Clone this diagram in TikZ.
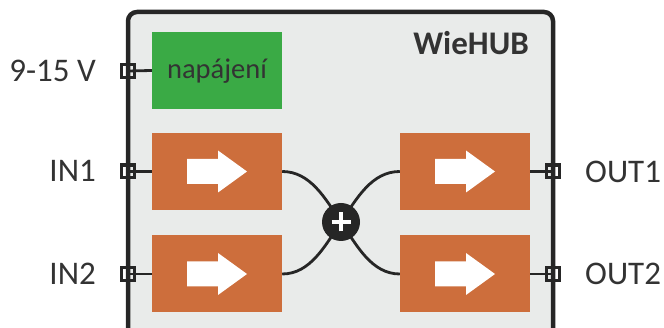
\documentclass[tikz,border=0pt]{standalone}
\usepackage{fontspec}
\setmainfont{Carlito}
\definecolor{bggray}{HTML}{E9EBEA}
\definecolor{dark}{HTML}{262626}
\definecolor{txt}{HTML}{333333}
\definecolor{orng}{HTML}{CD6E3C}
\definecolor{grn}{HTML}{3AAA45}
\begin{document}
\begin{tikzpicture}[x=1pt,y=-1pt,
  hub/.style={draw=dark, line width=4.5pt, fill=bggray, rounded corners=9pt, minimum width=425pt, minimum height=420pt, inner sep=0pt},
  blockbox/.style={fill=orng, minimum width=130pt, minimum height=77pt, inner sep=0pt},
  powerbox/.style={fill=grn, minimum width=130pt, minimum height=77pt, inner sep=0pt},
  port/.style={draw=dark, line width=3.2pt, minimum size=12.8pt, inner sep=0pt},
  wire/.style={draw=dark, line width=2.8pt},
  lbl/.style={text=txt, font=\fontsize{33}{33}\selectfont, inner sep=0pt},
  plus/.style={circle, fill=dark, minimum size=38pt, inner sep=0pt},
  blockarrow/.style={fill=white}
]
\clip (0,0) rectangle (664,328);
% main box
\node[hub] (hub) at (340.5,222) {};
\node[lbl, anchor=base east, font=\fontsize{33}{33}\selectfont\bfseries] (title) at (529,55) {WieHUB};
% blocks
\node[powerbox] (pwr) at (217,70.5) {};
\node[lbl, anchor=base, font=\fontsize{28.5}{28.5}\selectfont] (pwrtext) at (217,79) {napájení};
\node[blockbox] (b1) at (217,171.5) {};
\node[blockbox] (b2) at (217,274) {};
\node[blockbox] (b3) at (465,171.5) {};
\node[blockbox] (b4) at (465,274) {};
% white arrows
\foreach \b in {b1,b2,b3,b4}{
  \fill[blockarrow] (\b.center) ++(-30,-12.5) -- ++(31,0) -- ++(0,-8.5) -- ++(29,21) -- ++(-29,21) -- ++(0,-8.5) -- ++(-31,0) -- cycle;
}
% summing node
\coordinate (sum) at (341,222);
\draw[wire] (b1.east) .. controls +(28,0) and +(-16,-24) .. (sum);
\draw[wire] (b2.east) .. controls +(28,0) and +(-16,24) .. (sum);
\draw[wire] (b3.west) .. controls +(-28,0) and +(16,-24) .. (sum);
\draw[wire] (b4.west) .. controls +(-28,0) and +(16,24) .. (sum);
\node[plus] (plus) at (sum) {};
\draw[white, line width=4pt] ([xshift=-9.5pt]plus.center) -- ([xshift=9.5pt]plus.center);
\draw[white, line width=4pt] ([yshift=-9.5pt]plus.center) -- ([yshift=9.5pt]plus.center);
% ports
\node[port] (pp) at (128,71) {};
\node[port] (pi1) at (128,171.5) {};
\node[port] (pi2) at (128,274) {};
\node[port] (po1) at (553,171.5) {};
\node[port] (po2) at (553,274) {};
\draw[wire] (pp.center) -- (pwr.west);
\draw[wire] (pi1.center) -- (b1.west);
\draw[wire] (pi2.center) -- (b2.west);
\draw[wire] (b3.east) -- (po1.center);
\draw[wire] (b4.east) -- (po2.center);
% labels
\node[lbl, anchor=base east] (lp) at (96,82) {9-15 V};
\node[lbl, anchor=base east] (li1) at (96,182) {IN1};
\node[lbl, anchor=base east] (li2) at (96,285) {IN2};
\node[lbl, anchor=base west] (lo1) at (585,183) {OUT1};
\node[lbl, anchor=base west] (lo2) at (585,285) {OUT2};
\end{tikzpicture}
\end{document}
